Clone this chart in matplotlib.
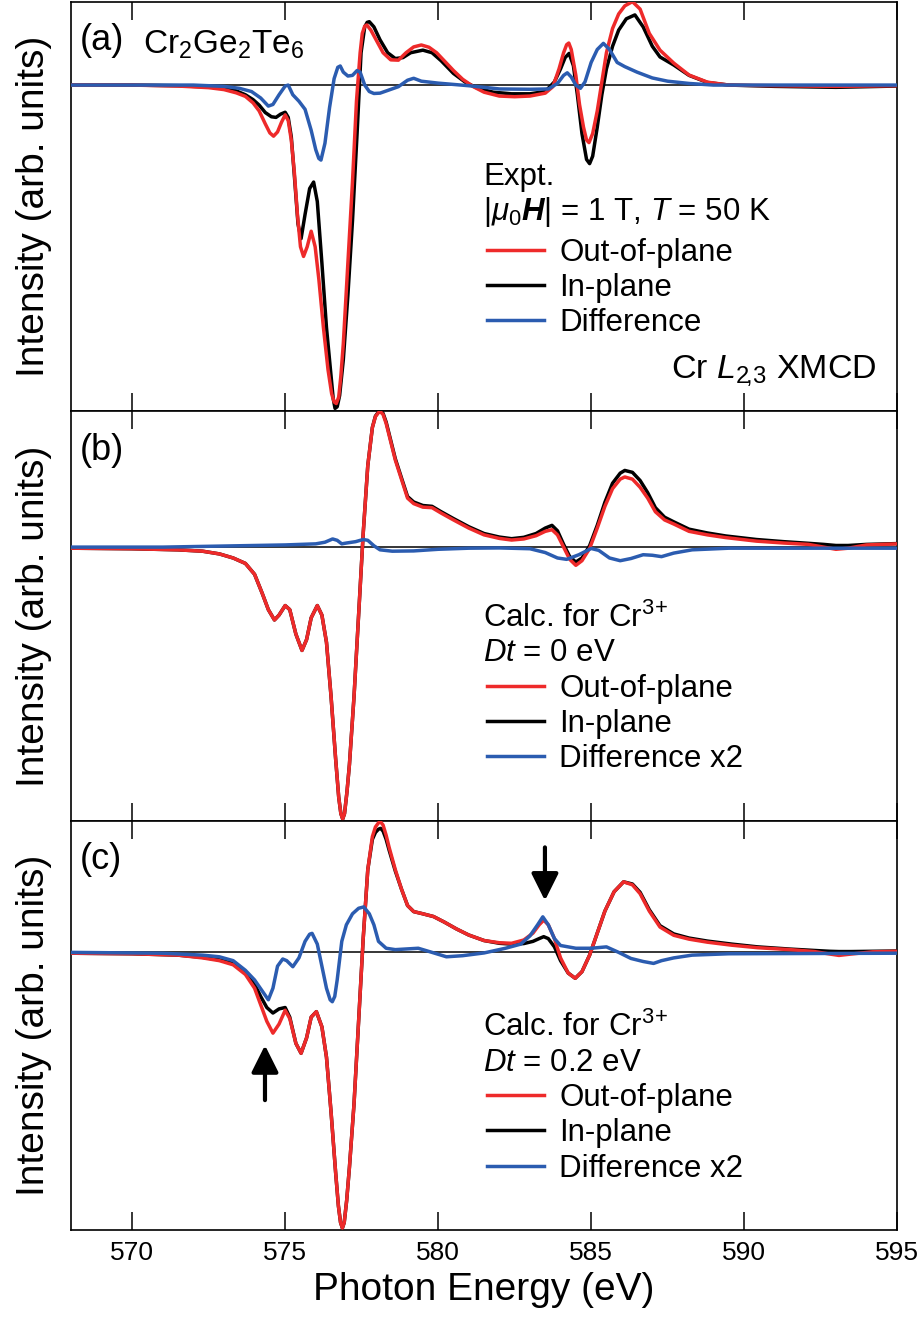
import numpy as np
import matplotlib
matplotlib.use("Agg")
import matplotlib.pyplot as plt

plt.rcParams['font.family'] = ['Liberation Sans', 'DejaVu Sans']
plt.rcParams['mathtext.fontset'] = 'custom'
plt.rcParams['mathtext.rm'] = 'Liberation Sans'
plt.rcParams['mathtext.it'] = 'Liberation Sans:italic'
plt.rcParams['mathtext.bf'] = 'Liberation Sans:bold'
plt.rcParams['mathtext.bfit'] = 'Liberation Sans:italic:bold'

RED = '#ee2a2a'
BLUE = '#2b5cb0'

# (a) experiment: energy (eV), intensity
a_out = np.array([
    (568.0, 0.0), (570.0, 0.0), (571.5, -0.003), (572.5, -0.008), (573.0, -0.014),
    (573.4, -0.024), (573.7, -0.035), (573.95, -0.055), (574.15, -0.08), (574.35, -0.12),
    (574.5, -0.148), (574.62, -0.158), (574.75, -0.145), (574.88, -0.115), (575.0, -0.092),
    (575.1, -0.11), (575.2, -0.17), (575.3, -0.27), (575.4, -0.4), (575.5, -0.5),
    (575.6, -0.53), (575.72, -0.5), (575.85, -0.452), (575.98, -0.5), (576.1, -0.6),
    (576.25, -0.75), (576.4, -0.88), (576.52, -0.955), (576.6, -0.98), (576.67, -0.985),
    (576.75, -0.965), (576.82, -0.9), (576.9, -0.8), (577.05, -0.55), (577.2, -0.3),
    (577.33, -0.05), (577.45, 0.1), (577.52, 0.16), (577.6, 0.182), (577.67, 0.186),
    (577.8, 0.17), (578.0, 0.135), (578.2, 0.1), (578.45, 0.078), (578.7, 0.077),
    (578.95, 0.1), (579.2, 0.118), (579.45, 0.124), (579.7, 0.117), (579.95, 0.1),
    (580.2, 0.075), (580.5, 0.045), (580.8, 0.018), (581.15, -0.005), (581.5, -0.022),
    (582.0, -0.034), (582.5, -0.036), (583.0, -0.034), (583.5, -0.025), (583.75, -0.005),
    (583.95, 0.05), (584.1, 0.1), (584.2, 0.125), (584.27, 0.13), (584.35, 0.11),
    (584.5, 0.03), (584.62, -0.06), (584.75, -0.13), (584.85, -0.17), (584.93, -0.178),
    (585.05, -0.15), (585.2, -0.08), (585.35, 0.01), (585.5, 0.1), (585.7, 0.175),
    (585.9, 0.22), (586.1, 0.245), (586.35, 0.258), (586.6, 0.235), (586.9, 0.16),
    (587.25, 0.108), (587.7, 0.068), (588.2, 0.031), (588.8, 0.009), (589.5, 0.0),
    (591.0, -0.002), (593.0, -0.004), (595.0, -0.002)])
a_in = np.array([
    (568.0, 0.0), (570.0, 0.0), (571.5, -0.002), (572.5, -0.006), (573.0, -0.01),
    (573.4, -0.018), (573.7, -0.03), (573.95, -0.045), (574.15, -0.062), (574.35, -0.085),
    (574.55, -0.098), (574.7, -0.1), (574.85, -0.09), (575.0, -0.084), (575.1, -0.1),
    (575.2, -0.16), (575.3, -0.28), (575.42, -0.43), (575.52, -0.475), (575.65, -0.4),
    (575.8, -0.32), (575.93, -0.3), (576.05, -0.36), (576.2, -0.55), (576.35, -0.75),
    (576.5, -0.9), (576.57, -0.97), (576.63, -1.0), (576.7, -0.995), (576.78, -0.96),
    (576.9, -0.85), (577.05, -0.65), (577.2, -0.42), (577.35, -0.15), (577.48, 0.1),
    (577.6, 0.18), (577.68, 0.194), (577.75, 0.196), (577.9, 0.18), (578.1, 0.14),
    (578.35, 0.1), (578.6, 0.082), (578.85, 0.085), (579.1, 0.1), (579.5, 0.108),
    (579.8, 0.1), (580.1, 0.075), (580.5, 0.036), (580.9, 0.008), (581.3, -0.01),
    (581.8, -0.022), (582.4, -0.027), (583.0, -0.027), (583.5, -0.02), (583.8, 0.01),
    (584.0, 0.05), (584.15, 0.085), (584.28, 0.098), (584.42, 0.06), (584.55, -0.03),
    (584.7, -0.15), (584.85, -0.23), (584.95, -0.243), (585.05, -0.22), (585.2, -0.13),
    (585.35, -0.03), (585.5, 0.05), (585.7, 0.12), (585.9, 0.17), (586.15, 0.205),
    (586.43, 0.217), (586.7, 0.18), (587.0, 0.12), (587.25, 0.087), (587.7, 0.062),
    (588.2, 0.03), (588.8, 0.008), (589.5, 0.0), (591.0, -0.004), (593.0, -0.007),
    (595.0, -0.003)])
a_diff = np.array([
    (568.0, 0.0), (572.0, 0.0), (573.0, -0.004), (573.5, -0.01), (573.9, -0.02),
    (574.2, -0.04), (574.45, -0.065), (574.6, -0.06), (574.8, -0.03), (575.0, -0.003),
    (575.1, 0.0), (575.25, -0.03), (575.45, -0.05), (575.65, -0.075), (575.85, -0.14),
    (576.0, -0.2), (576.1, -0.227), (576.17, -0.232), (576.3, -0.18), (576.45, -0.07),
    (576.6, 0.02), (576.72, 0.055), (576.8, 0.059), (576.9, 0.04), (577.05, 0.028),
    (577.2, 0.03), (577.35, 0.045), (577.45, 0.04), (577.6, 0.0), (577.75, -0.02),
    (577.9, -0.026), (578.1, -0.025), (578.4, -0.015), (578.7, -0.005), (579.0, 0.015),
    (579.2, 0.021), (579.45, 0.012), (580.0, 0.006), (581.0, -0.002), (582.0, -0.012),
    (583.0, -0.013), (583.6, -0.012), (583.9, 0.005), (584.1, 0.03), (584.22, 0.038),
    (584.35, 0.025), (584.5, 0.0), (584.65, -0.01), (584.8, 0.01), (585.0, 0.07),
    (585.2, 0.11), (585.4, 0.129), (585.6, 0.11), (585.85, 0.07), (586.1, 0.057),
    (586.5, 0.04), (587.0, 0.022), (587.5, 0.012), (588.2, 0.005), (589.0, 0.0),
    (595.0, 0.0)])

# (b) calculation, Dt = 0 eV
b_out = np.array([
    (568.0, -0.004), (570.0, -0.006), (571.5, -0.01), (572.3, -0.015), (572.85, -0.025),
    (573.3, -0.04), (573.7, -0.06), (574.0, -0.1), (574.25, -0.17), (574.45, -0.23),
    (574.65, -0.268), (574.8, -0.25), (575.0, -0.215), (575.15, -0.23), (575.35, -0.32),
    (575.55, -0.38), (575.7, -0.34), (575.85, -0.26), (576.05, -0.215), (576.2, -0.25),
    (576.35, -0.35), (576.5, -0.55), (576.65, -0.78), (576.75, -0.92), (576.82, -0.98),
    (576.88, -1.0), (576.94, -0.98), (577.02, -0.9), (577.1, -0.8), (577.25, -0.55),
    (577.4, -0.25), (577.55, 0.05), (577.7, 0.3), (577.85, 0.44), (577.95, 0.48),
    (578.05, 0.495), (578.12, 0.497), (578.2, 0.488), (578.3, 0.455), (578.4, 0.41),
    (578.6, 0.32), (578.8, 0.25), (579.0, 0.18), (579.2, 0.16), (579.5, 0.147),
    (579.8, 0.145), (580.1, 0.125), (580.5, 0.1), (581.0, 0.07), (581.5, 0.045),
    (582.0, 0.032), (582.4, 0.026), (582.8, 0.03), (583.2, 0.042), (583.5, 0.058),
    (583.72, 0.064), (583.9, 0.045), (584.1, 0.0), (584.3, -0.045), (584.5, -0.067),
    (584.7, -0.05), (584.95, -0.005), (585.2, 0.07), (585.45, 0.15), (585.7, 0.215),
    (585.95, 0.25), (586.1, 0.258), (586.35, 0.25), (586.6, 0.22), (586.85, 0.18),
    (587.1, 0.13), (587.4, 0.1), (587.7, 0.085), (588.2, 0.058), (588.8, 0.045),
    (589.4, 0.035), (590.4, 0.022), (591.3, 0.015), (592.1, 0.01), (592.6, 0.0),
    (593.0, -0.008), (593.4, -0.004), (594.0, 0.008), (595.0, 0.012)])
b_in = np.array([
    (568.0, -0.004), (570.0, -0.006), (571.5, -0.01), (572.3, -0.015), (572.85, -0.025),
    (573.3, -0.04), (573.7, -0.06), (574.0, -0.1), (574.25, -0.17), (574.45, -0.23),
    (574.65, -0.268), (574.8, -0.25), (575.0, -0.215), (575.15, -0.23), (575.35, -0.32),
    (575.55, -0.38), (575.7, -0.34), (575.85, -0.26), (576.05, -0.215), (576.2, -0.25),
    (576.35, -0.35), (576.5, -0.55), (576.65, -0.78), (576.75, -0.92), (576.82, -0.98),
    (576.88, -1.0), (576.94, -0.98), (577.02, -0.9), (577.1, -0.8), (577.25, -0.55),
    (577.4, -0.25), (577.55, 0.05), (577.7, 0.3), (577.85, 0.44), (577.95, 0.482),
    (578.05, 0.497), (578.12, 0.5), (578.2, 0.492), (578.3, 0.46), (578.4, 0.415),
    (578.6, 0.325), (578.8, 0.255), (579.0, 0.186), (579.2, 0.166), (579.5, 0.153),
    (579.8, 0.15), (580.1, 0.13), (580.5, 0.105), (581.0, 0.075), (581.5, 0.05),
    (582.0, 0.037), (582.4, 0.031), (582.8, 0.036), (583.2, 0.05), (583.5, 0.07),
    (583.72, 0.08), (583.9, 0.06), (584.1, 0.01), (584.3, -0.035), (584.5, -0.055),
    (584.7, -0.04), (584.95, 0.005), (585.2, 0.08), (585.45, 0.165), (585.7, 0.235),
    (585.95, 0.272), (586.1, 0.282), (586.35, 0.275), (586.6, 0.245), (586.85, 0.2),
    (587.1, 0.145), (587.4, 0.11), (587.7, 0.093), (588.2, 0.066), (588.8, 0.052),
    (589.4, 0.041), (590.4, 0.028), (591.3, 0.02), (592.1, 0.014), (592.6, 0.01),
    (593.0, 0.006), (593.4, 0.006), (594.0, 0.01), (595.0, 0.013)])
b_diff = np.array([
    (568.0, 0.0), (571.0, 0.0), (573.5, 0.005), (575.0, 0.008), (576.0, 0.012),
    (576.3, 0.018), (576.55, 0.03), (576.7, 0.025), (576.85, 0.012), (577.0, 0.015),
    (577.3, 0.02), (577.55, 0.028), (577.7, 0.025), (577.9, 0.005), (578.1, -0.01),
    (578.5, -0.015), (579.2, -0.014), (580.0, -0.008), (581.0, -0.004), (582.0, -0.003),
    (583.0, -0.006), (583.5, -0.02), (583.9, -0.04), (584.2, -0.045), (584.6, -0.028),
    (585.0, -0.005), (585.25, -0.012), (585.6, -0.04), (585.95, -0.05), (586.3, -0.042),
    (586.7, -0.028), (587.0, -0.03), (587.3, -0.035), (587.7, -0.022), (588.3, -0.01),
    (589.5, -0.004), (595.0, -0.004)])

# (c) calculation, Dt = 0.2 eV
c_out = np.array([
    (568.0, -0.003), (570.0, -0.005), (571.5, -0.01), (572.3, -0.02), (572.85, -0.03),
    (573.3, -0.045), (573.7, -0.08), (574.0, -0.13), (574.2, -0.19), (574.4, -0.25),
    (574.6, -0.293), (574.8, -0.26), (575.0, -0.21), (575.15, -0.24), (575.35, -0.33),
    (575.52, -0.366), (575.7, -0.31), (575.85, -0.235), (576.02, -0.215), (576.2, -0.27),
    (576.35, -0.38), (576.5, -0.58), (576.65, -0.8), (576.74, -0.92), (576.81, -0.98),
    (576.87, -1.0), (576.93, -0.98), (577.01, -0.9), (577.1, -0.78), (577.25, -0.55),
    (577.4, -0.25), (577.55, 0.05), (577.7, 0.3), (577.85, 0.42), (577.95, 0.455),
    (578.05, 0.47), (578.12, 0.473), (578.2, 0.462), (578.3, 0.425), (578.4, 0.38),
    (578.6, 0.3), (578.8, 0.23), (579.0, 0.17), (579.2, 0.148), (579.5, 0.14),
    (579.85, 0.13), (580.2, 0.11), (580.6, 0.085), (581.0, 0.063), (581.5, 0.043),
    (582.0, 0.035), (582.4, 0.033), (582.8, 0.045), (583.1, 0.07), (583.3, 0.1),
    (583.45, 0.117), (583.6, 0.1), (583.8, 0.05), (584.0, -0.02), (584.25, -0.075),
    (584.48, -0.094), (584.7, -0.07), (584.95, -0.01), (585.2, 0.07), (585.45, 0.15),
    (585.75, 0.22), (586.06, 0.256), (586.35, 0.245), (586.6, 0.213), (586.9, 0.15),
    (587.25, 0.092), (587.7, 0.062), (588.2, 0.048), (588.8, 0.037), (589.6, 0.026),
    (590.44, 0.017), (591.5, 0.01), (592.3, 0.003), (592.8, -0.006), (593.1, -0.011),
    (593.5, -0.006), (594.2, 0.002), (595.0, 0.004)])
c_in = np.array([
    (568.0, -0.003), (570.0, -0.005), (571.5, -0.01), (572.3, -0.018), (572.85, -0.027),
    (573.3, -0.04), (573.7, -0.07), (574.0, -0.115), (574.2, -0.16), (574.4, -0.2),
    (574.6, -0.22), (574.8, -0.205), (575.0, -0.2), (575.15, -0.235), (575.35, -0.33),
    (575.52, -0.366), (575.7, -0.31), (575.85, -0.235), (576.02, -0.215), (576.2, -0.27),
    (576.35, -0.38), (576.5, -0.58), (576.65, -0.8), (576.74, -0.92), (576.81, -0.98),
    (576.87, -1.0), (576.93, -0.98), (577.01, -0.9), (577.1, -0.78), (577.25, -0.55),
    (577.4, -0.25), (577.55, 0.05), (577.7, 0.3), (577.85, 0.41), (577.95, 0.435),
    (578.05, 0.447), (578.12, 0.45), (578.2, 0.44), (578.3, 0.41), (578.4, 0.37),
    (578.6, 0.295), (578.8, 0.23), (579.0, 0.17), (579.2, 0.148), (579.5, 0.14),
    (579.85, 0.13), (580.2, 0.11), (580.6, 0.085), (581.0, 0.063), (581.5, 0.043),
    (582.0, 0.033), (582.4, 0.03), (582.8, 0.032), (583.1, 0.04), (583.3, 0.05),
    (583.45, 0.057), (583.6, 0.05), (583.8, 0.02), (584.0, -0.03), (584.25, -0.075),
    (584.48, -0.094), (584.7, -0.07), (584.95, -0.01), (585.2, 0.07), (585.45, 0.15),
    (585.75, 0.22), (586.06, 0.256), (586.35, 0.248), (586.6, 0.218), (586.9, 0.155),
    (587.25, 0.097), (587.7, 0.067), (588.2, 0.052), (588.8, 0.041), (589.6, 0.03),
    (590.44, 0.02), (591.5, 0.012), (592.3, 0.007), (592.8, 0.004), (593.1, 0.003),
    (593.5, 0.003), (594.2, 0.004), (595.0, 0.005)])
c_diff = np.array([
    (568.0, 0.0), (571.0, -0.003), (572.3, -0.01), (572.85, -0.016), (573.3, -0.03),
    (573.7, -0.065), (574.0, -0.1), (574.25, -0.14), (574.45, -0.172), (574.6, -0.13),
    (574.75, -0.05), (574.92, -0.024), (575.05, -0.03), (575.25, -0.052), (575.45, -0.02),
    (575.65, 0.04), (575.8, 0.066), (575.88, 0.069), (576.05, 0.03), (576.2, -0.05),
    (576.35, -0.13), (576.47, -0.172), (576.54, -0.179), (576.62, -0.16), (576.7, -0.1),
    (576.85, 0.04), (577.0, 0.1), (577.2, 0.14), (577.4, 0.16), (577.57, 0.165),
    (577.75, 0.14), (577.9, 0.1), (578.05, 0.04), (578.3, 0.015), (578.6, 0.01),
    (578.9, 0.012), (579.35, 0.015), (579.8, 0.0), (580.27, -0.016), (580.8, -0.012),
    (581.5, -0.002), (582.2, 0.015), (582.7, 0.03), (583.0, 0.06), (583.25, 0.1),
    (583.42, 0.129), (583.6, 0.1), (583.8, 0.05), (584.0, 0.025), (584.5, 0.015),
    (585.0, 0.015), (585.5, 0.02), (585.9, 0.0), (586.3, -0.022), (586.7, -0.033),
    (587.04, -0.04), (587.3, -0.03), (587.7, -0.02), (588.3, -0.01), (589.5, -0.005),
    (595.0, -0.003)])

ylims = [(-1.009, 0.257), (-1.006, 0.4995), (-1.007, 0.478)]
panel_tags = ['(a)', '(b)', '(c)']
headers = [['Expt.', r'$|\mu_0\boldsymbol{H}|$ = 1 T, $T$ = 50 K'],
           [r'Calc. for Cr$^{3}$$^{+}$', r'$Dt$ = 0 eV'],
           [r'Calc. for Cr$^{3}$$^{+}$', r'$Dt$ = 0.2 eV']]
diff_labels = ['Difference', 'Difference x2', 'Difference x2']
xticks = [570, 575, 580, 585, 590, 595]

# arrows in (c): (energy, tail, head)
arrow_up = (574.34, -0.536, -0.337)
arrow_down = (583.49, 0.381, 0.188)

fig, axes = plt.subplots(3, 1, sharex=True, figsize=(9.22, 13.18), dpi=100)
fig.subplots_adjust(left=0.077, right=0.973, bottom=0.0668, top=0.9985, hspace=0)

data = [(a_out, a_in, a_diff), (b_out, b_in, b_diff), (c_out, c_in, c_diff)]
for i, ax in enumerate(axes):
    out, inp, diff = data[i]
    ax.axhline(0, color='k', lw=1.1, zorder=1)
    l_in, = ax.plot(inp[:, 0], inp[:, 1], color='k', lw=2.5, label='In-plane', zorder=2)
    l_out, = ax.plot(out[:, 0], out[:, 1], color=RED, lw=2.5, label='Out-of-plane', zorder=3)
    l_diff, = ax.plot(diff[:, 0], diff[:, 1], color=BLUE, lw=2.5, label=diff_labels[i], zorder=4)
    ax.set_ylim(*ylims[i])
    ax.set_xlim(568, 595)
    ax.set_xticks(xticks)
    ax.tick_params(axis='x', direction='in', top=True, bottom=True, length=13, width=1.1,
                   labelbottom=(i == 2), labelsize=19, pad=8)
    ax.tick_params(axis='y', left=False, labelleft=False)
    for s in ax.spines.values():
        s.set_linewidth(1.2)
    ax.set_ylabel('Intensity (arb. units)', fontsize=28, labelpad=14)
    ax.text(0.011, 0.905, panel_tags[i], transform=ax.transAxes, fontsize=26,
            ha='left', va='center')
    top_row = 0.572 if i == 0 else 0.495
    leg_gap = 0.148 if i == 0 else 0.136
    ax.text(0.499, top_row, headers[i][0], transform=ax.transAxes, fontsize=22.5,
            ha='left', va='center')
    ax.text(0.499, top_row - 0.086, headers[i][1], transform=ax.transAxes, fontsize=22.5,
            ha='left', va='center')
    ax.legend(handles=[l_out, l_in, l_diff], loc='upper left',
              bbox_to_anchor=(0.504, top_row - leg_gap), frameon=False, fontsize=22.5,
              borderpad=0, borderaxespad=0, handlelength=1.8, handletextpad=0.5,
              labelspacing=0.17)

axes[0].text(0.087, 0.895, r'Cr$_2$Ge$_2$Te$_6$', transform=axes[0].transAxes,
             fontsize=24, ha='left', va='center')
axes[0].text(0.975, 0.1, r'Cr $L_{2\!,\!3}$ XMCD', transform=axes[0].transAxes,
             fontsize=24.5, ha='right', va='center')

for e, y0, y1 in [arrow_up, arrow_down]:
    axes[2].annotate('', xy=(e, y1), xytext=(e, y0),
                     arrowprops=dict(arrowstyle='-|>,head_length=0.4,head_width=0.2',
                                     color='k', lw=3, mutation_scale=41, shrinkA=0, shrinkB=0))

axes[2].set_xlabel('Photon Energy (eV)', fontsize=28, labelpad=5)

fig.savefig('out.png', dpi=100)
